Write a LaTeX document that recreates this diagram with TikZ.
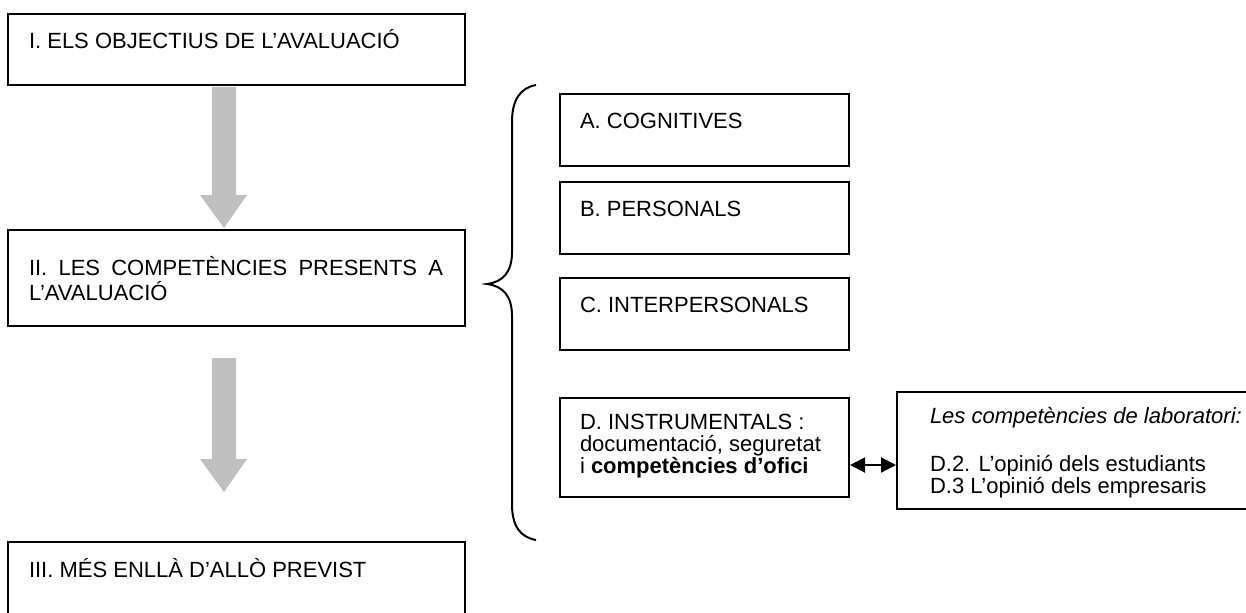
\documentclass[tikz,border=0pt]{standalone}
\usepackage{fontspec}
\setmainfont{Liberation Sans}
\usetikzlibrary{calc,arrows.meta}

\definecolor{arrowgray}{HTML}{C0C0C0}

% several lines on a tight 10.5pt pitch, aligned on the first baseline
\newcommand{\stacklines}[1]{\begin{tabular}[t]{@{}l@{}}#1\end{tabular}}

\begin{document}
\begin{tikzpicture}[x=0.5pt,y=-0.5pt,
  font=\fontsize{11}{10.5}\selectfont,
  box/.style={draw, line width=1pt, anchor=north west, inner sep=0pt},
  wide/.style={box, minimum width=228.5pt},
  sub/.style={box, minimum width=144.5pt},
  txt/.style={anchor=base west, inner sep=0pt, outer sep=0pt},
  blockarrow/.style={fill=arrowgray, draw=none},
  dblarrow/.style={line width=1pt, {Triangle[length=7.5pt,width=7.5pt]}-{Triangle[length=7.5pt,width=7.5pt]}}]

\useasboundingbox (0,0) rectangle (1246,612);
\clip (0,0) rectangle (1246,612);

% left column of main sections
\node[wide, minimum height=35.5pt] (s1) at (7,13) {};
\node[wide, minimum height=48pt]   (s2) at (7,229) {};
\node[wide, minimum height=40pt]   (s3) at (7,541) {};

\node[txt] (s1t) at (29,48) {I. ELS OBJECTIUS DE L’AVALUACIÓ};
\node[txt] (s2t) at (29,275) {\stacklines{\makebox[207pt][s]{II. LES COMPETÈNCIES PRESENTS A}\\
  L’AVALUACIÓ}};
\node[txt] (s3t) at (29,577) {III. MÉS ENLLÀ D’ALLÒ PREVIST};

% grey block arrows between the sections
\fill[blockarrow] (212,87) -- (236,87) -- (236,195) -- (247,195) -- (224,228)
  -- (200,195) -- (212,195) -- cycle;
\fill[blockarrow] (212,358) -- (236,358) -- (236,459) -- (247,459) -- (224,492)
  -- (200,459) -- (212,459) -- cycle;

% brace grouping the four kinds of competences
\draw[line width=1pt] (536,85) .. controls (520,88) and (512,100) .. (512,122)
  -- (512,252) .. controls (512,272) and (503,282) .. (487,284)
  .. controls (503,286) and (512,296) .. (512,316)
  -- (512,504) .. controls (512,526) and (520,537) .. (536,540);

% competence boxes
\node[sub, minimum height=36pt]   (ca) at (559,93) {};
\node[sub, minimum height=36pt]   (cb) at (559,181) {};
\node[sub, minimum height=36pt]   (cc) at (559,277) {};
\node[sub, minimum height=49.5pt] (cd) at (559,397) {};

\node[txt] (cat) at (580,128) {A. COGNITIVES};
\node[txt] (cbt) at (580,216) {B. PERSONALS};
\node[txt] (cct) at (580,312) {C. INTERPERSONALS};
\node[txt] (cdt) at (580,429) {\stacklines{D. INSTRUMENTALS :\\
  documentació, seguretat\\
  i \textbf{competències d’ofici}}};

% laboratory competences box
\node[box, minimum width=177pt, minimum height=58.5pt] (lab) at (896,391) {};
\node[txt] (lbt) at (930,423) {\textit{Les competències de laboratori:}};
\node[txt] (lbl) at (930,471) {\stacklines{D.2. L’opinió dels estudiants\\
  D.3 L’opinió dels empresaris}};

\coordinate (arrowlevel) at (0,465);
\draw[dblarrow] (cd.east |- arrowlevel) -- (lab.west |- arrowlevel);

\end{tikzpicture}
\end{document}
